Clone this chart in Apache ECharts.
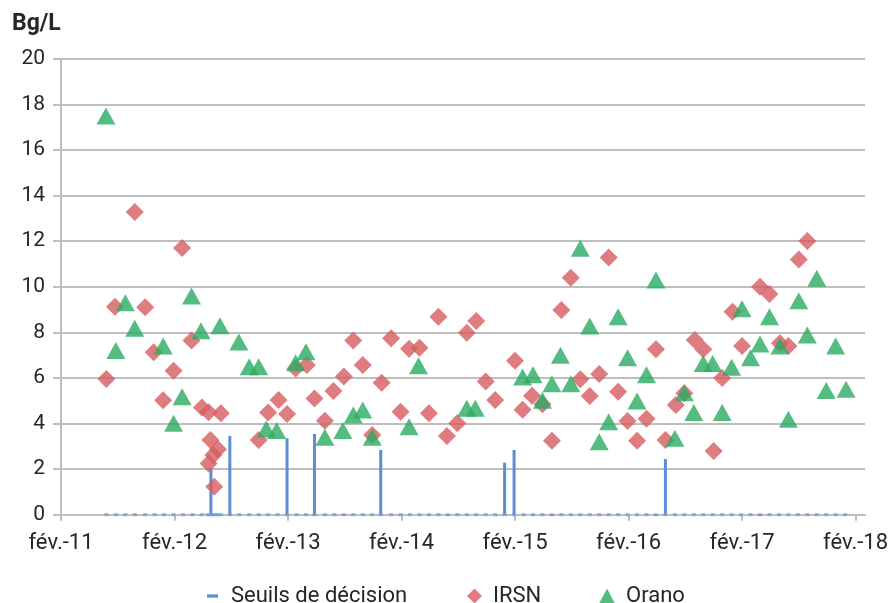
<!DOCTYPE html>
<html>
<head>
<meta charset="utf-8">
<script src="https://cdn.jsdelivr.net/npm/echarts@6/dist/echarts.min.js"></script>
<style>
html,body{margin:0;padding:0;background:#fff;}
#c{width:894px;height:603px;}
</style>
</head>
<body>
<div id="c"></div>
<script>
// x values: months since February 2011 (fév.-11 = 0)
var xTickLabels = ['fév.-11','fév.-12','fév.-13','fév.-14','fév.-15','fév.-16','fév.-17','fév.-18'];
var xTickMonths = [0,12,24,36,48,60,72,84];
var yTicks = [0,2,4,6,8,10,12,14,16,18,20];

var irsnMonths = [4.8,5.7,7.8,8.9,9.8,10.8,11.9,12.8,13.8,14.9,15.6,15.6,15.8,16.1,16.2,16.6,16.9,20.9,21.9,23.0,23.9,24.8,26.0,26.8,27.9,28.8,29.9,30.9,31.9,32.9,33.9,34.9,35.9,36.8,37.9,38.9,39.9,40.8,41.9,42.9,43.9,44.9,45.9,48.0,48.8,49.8,50.9,51.9,52.9,53.9,54.9,55.9,56.9,57.9,58.9,59.9,60.9,61.9,62.9,63.9,65.0,65.9,67.0,67.9,69.0,69.9,71.0,72.0,73.9,74.9,76.0,76.9,78.0,78.9];
var irsnValues = [5.95,9.13,13.28,9.1,7.13,5.02,6.32,11.7,7.64,4.70,4.49,2.25,3.28,2.62,1.23,2.87,4.45,3.28,4.48,5.03,4.42,6.42,6.57,5.1,4.12,5.43,6.06,7.64,6.57,3.50,5.79,7.74,4.52,7.28,7.33,4.45,8.69,3.45,4.01,7.98,8.50,5.84,5.03,6.76,4.6,5.22,4.85,3.25,8.98,10.40,5.94,5.21,6.17,11.29,5.40,4.11,3.25,4.21,7.26,3.28,4.81,5.33,7.67,7.26,2.8,6.0,8.91,7.40,10.0,9.68,7.52,7.40,11.2,12.01];

var oranoMonths = [4.75,5.8,6.8,7.8,10.8,11.9,12.8,13.8,14.8,16.8,18.8,19.9,20.9,21.7,22.8,24.8,25.9,27.9,29.8,30.9,31.9,32.9,36.8,37.8,42.9,43.8,48.8,49.9,50.9,51.9,52.8,53.9,54.9,55.9,56.9,57.9,58.9,59.9,60.9,61.9,62.9,64.9,65.9,66.9,67.9,68.9,69.9,70.9,72.0,72.9,73.9,74.9,76.0,76.9,78.0,78.9,79.9,80.9,81.9,83.0];
var oranoValues = [17.49,7.2,9.30,8.18,7.40,4.01,5.18,9.60,8.07,8.29,7.58,6.49,6.49,3.76,3.69,6.67,7.15,3.40,3.69,4.37,4.59,3.40,3.86,6.54,4.67,4.67,6.04,6.14,5.02,5.75,7.0,5.75,11.69,8.28,3.20,4.08,8.69,6.89,4.99,6.14,10.30,3.35,5.35,4.48,6.63,6.63,4.48,6.47,9.04,6.89,7.49,8.69,7.40,4.19,9.39,7.89,10.37,5.45,7.40,5.50];

// Seuils de décision: measurement dates (value 0) and the non-zero thresholds
var seuilMonths = [4.8,5.8,6.8,7.8,8.9,9.9,10.9,11.9,12.9,13.9,14.9,15.5,15.85,16.1,16.3,16.6,16.9,17.85,18.85,19.9,20.9,21.9,22.9,23.9,24.9,25.9,26.8,27.9,28.9,29.9,30.9,31.9,32.9,33.8,34.9,35.9,36.9,37.9,38.9,39.9,40.9,41.9,42.9,43.9,44.9,45.9,46.9,47.9,48.9,49.9,50.9,51.9,52.9,53.9,54.9,55.9,56.9,57.9,58.9,59.9,60.9,61.9,62.9,63.9,64.9,65.9,66.9,67.9,68.9,69.9,70.9,71.9,72.9,73.9,74.9,75.9,76.9,77.9,78.9,79.9,80.9,81.9,82.9];
var seuilPicMonths = [15.85,17.85,23.9,26.8,33.8,46.9,47.9,63.9];
var seuilPicValues = [2.05,3.45,3.35,3.54,2.84,2.28,2.84,2.44];

function zip(a,b){ var r=[]; for(var i=0;i<a.length;i++) r.push([a[i], b[i]]); return r; }
function zeros(a){ var r=[]; for(var i=0;i<a.length;i++) r.push([a[i], 0]); return r; }

var FONT = 'Roboto';
var TXT = '#262626';
var GRID = '#BEBEBE';

var chart = echarts.init(document.getElementById('c'), null, {renderer:'canvas'});
chart.setOption({
  animation: false,
  backgroundColor: '#fff',
  textStyle: {fontFamily: FONT},
  title: {
    text: 'Bg/L', left: 12, top: 13, padding: 0,
    textStyle: {fontFamily: FONT, fontSize: 23, fontWeight: 'bold', color: TXT}
  },
  grid: {left: 61, right: 29, top: 58.9, bottom: 88.3, containLabel: false},
  legend: [
    {
      data: [{name: 'Seuils de décision', icon: 'path://M0,0 L10,0 L10,3 L0,3 Z'}],
      left: 202, top: 580, itemWidth: 11, itemHeight: 14, symbolKeepAspect: true,
      textStyle: {fontFamily: FONT, fontSize: 22, color: TXT, padding: [0,0,0,8]},
      selectedMode: false
    },
    {
      data: [{name: 'IRSN', icon: 'diamond'}],
      left: 462, top: 580, itemWidth: 15, itemHeight: 15,
      textStyle: {fontFamily: FONT, fontSize: 22, color: TXT, padding: [0,0,0,6]},
      selectedMode: false
    },
    {
      data: [{name: 'Orano', icon: 'triangle'}],
      left: 594, top: 580, itemWidth: 16, itemHeight: 15,
      textStyle: {fontFamily: FONT, fontSize: 22, color: TXT, padding: [0,0,0,6]},
      selectedMode: false
    }
  ],
  xAxis: {
    type: 'value', min: 0, max: 85, interval: 12,
    axisLine: {show: true, onZero: false, lineStyle: {color: GRID, width: 2}},
    axisTick: {show: true, length: 6, customValues: xTickMonths, lineStyle: {color: GRID, width: 2}},
    splitLine: {show: false},
    axisLabel: {
      customValues: xTickMonths, margin: 18, fontFamily: FONT, fontSize: 22, color: TXT,
      formatter: function(v){ var i = xTickMonths.indexOf(Math.round(v)); return i >= 0 ? xTickLabels[i] : ''; }
    }
  },
  yAxis: {
    type: 'value', min: 0, max: 20, interval: 2,
    axisLine: {show: true, lineStyle: {color: GRID, width: 2}},
    axisTick: {show: true, length: 8, lineStyle: {color: GRID, width: 2}},
    splitLine: {show: true, lineStyle: {color: GRID, width: 2}},
    axisLabel: {margin: 16, fontFamily: FONT, fontSize: 21, color: TXT,
      customValues: yTicks}
  },
  series: [
    {
      name: 'Seuils de décision', type: 'bar', data: zip(seuilPicMonths, seuilPicValues),
      barWidth: 3, itemStyle: {color: '#5B8ED5'}, z: 2
    },
    {
      name: 'Seuils de décision', type: 'scatter', data: zeros(seuilMonths),
      symbol: 'rect', symbolSize: [4, 3], itemStyle: {color: '#6E9EDB'}, z: 3
    },
    {
      name: 'IRSN', type: 'scatter', data: zip(irsnMonths, irsnValues),
      symbol: 'diamond', symbolSize: [18, 18], itemStyle: {color: '#D75B5F'}, z: 4
    },
    {
      name: 'Orano', type: 'scatter', data: zip(oranoMonths, oranoValues),
      symbol: 'triangle', symbolSize: [19, 17], itemStyle: {color: '#2AAB62'}, z: 5
    }
  ]
});
</script>
</body>
</html>
